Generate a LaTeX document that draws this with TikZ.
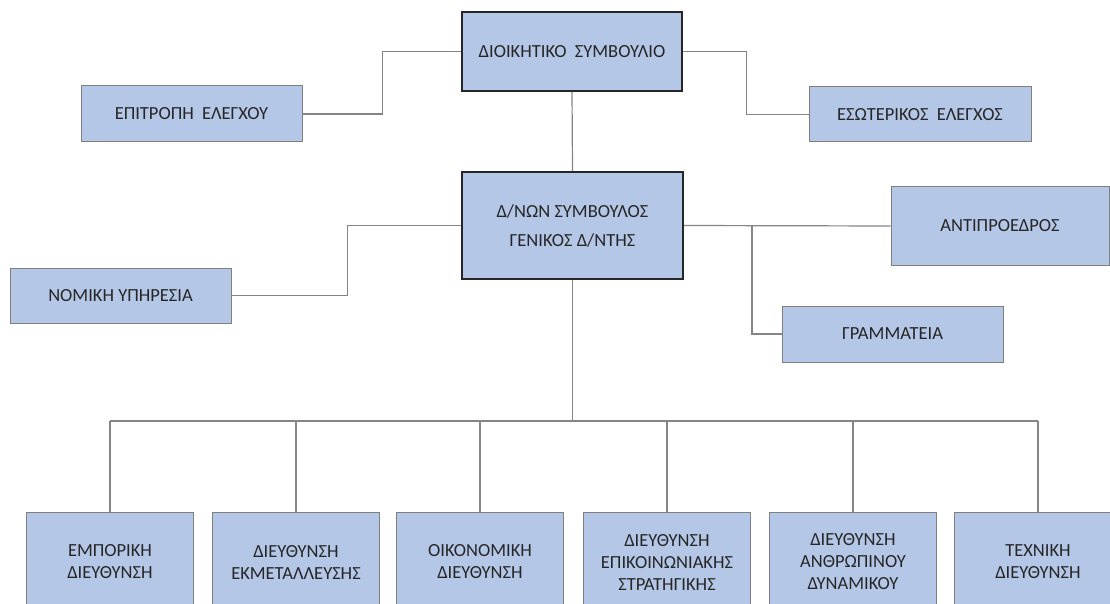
\documentclass[tikz,border=0pt]{standalone}
\usepackage{fontspec}
\setmainfont{Carlito}
\definecolor{boxfill}{HTML}{B4C7E7}
\definecolor{boxline}{HTML}{7F7F7F}
\definecolor{darkline}{HTML}{262626}
\definecolor{wire}{HTML}{858585}
\definecolor{txt}{HTML}{262626}
\begin{document}
\begin{tikzpicture}[x=1pt,y=-1pt,
  unit/.style={draw=boxline, line width=1pt, fill=boxfill, text=txt, align=center,
    inner sep=0pt, font=\fontsize{18.5}{22}\selectfont},
  headunit/.style={unit, draw=darkline, line width=1.6pt},
  wirestyle/.style={draw=wire, line width=1.2pt}]
\useasboundingbox (0,0) rectangle (1110,604);
\clip (0,0) rectangle (1110,604);
\fill[white] (0,0) rectangle (1110,604);

% boxes
\node[headunit, minimum width=220pt, minimum height=79pt] (top) at (572,51.5) {ΔΙΟΙΚΗΤΙΚΟ\ \ ΣΥΜΒΟΥΛΙΟ};
\node[unit, minimum width=221pt, minimum height=56pt] (epi) at (191.5,114) {ΕΠΙΤΡΟΠΗ\ \ ΕΛΕΓΧΟΥ};
\node[unit, minimum width=222pt, minimum height=55pt] (eso) at (920,114.5) {ΕΣΩΤΕΡΙΚΟΣ\ \ ΕΛΕΓΧΟΣ};
\node[headunit, minimum width=221pt, minimum height=107pt] (mid) at (572.5,225.5) {Δ/ΝΩΝ ΣΥΜΒΟΥΛΟΣ\\[7pt]ΓΕΝΙΚΟΣ Δ/ΝΤΗΣ};
\node[unit, minimum width=221pt, minimum height=55pt] (nom) at (120.5,295.5) {ΝΟΜΙΚΗ ΥΠΗΡΕΣΙΑ};
\node[unit, minimum width=218pt, minimum height=78pt] (ant) at (1000,226) {ΑΝΤΙΠΡΟΕΔΡΟΣ};
\node[unit, minimum width=221pt, minimum height=56pt] (gra) at (892.5,334) {ΓΡΑΜΜΑΤΕΙΑ};

\node[unit, minimum width=167pt, minimum height=100pt] (b1) at (110,562) {ΕΜΠΟΡΙΚΗ\\ΔΙΕΥΘΥΝΣΗ};
\node[unit, minimum width=167pt, minimum height=100pt] (b2) at (296,562) {ΔΙΕΥΘΥΝΣΗ\\ΕΚΜΕΤΑΛΛΕΥΣΗΣ};
\node[unit, minimum width=167pt, minimum height=100pt] (b3) at (480,562) {ΟΙΚΟΝΟΜΙΚΗ\\ΔΙΕΥΘΥΝΣΗ};
\node[unit, minimum width=167pt, minimum height=100pt] (b4) at (667,562) {ΔΙΕΥΘΥΝΣΗ\\ΕΠΙΚΟΙΝΩΝΙΑΚΗΣ\\ΣΤΡΑΤΗΓΙΚΗΣ};
\node[unit, minimum width=167pt, minimum height=100pt] (b5) at (853,562) {ΔΙΕΥΘΥΝΣΗ\\ΑΝΘΡΩΠΙΝΟΥ\\ΔΥΝΑΜΙΚΟΥ};
\node[unit, minimum width=167pt, minimum height=100pt] (b6) at (1038,562) {ΤΕΧΝΙΚΗ\\ΔΙΕΥΘΥΝΣΗ};

% connectors
\coordinate (br) at (752,226);
\coordinate (bus) at (572.5,421);
\draw[wirestyle] (epi.east) -- ++(80,0) |- (top.west);
\draw[wirestyle] (top.east) -- ++(64,0) |- (eso.west);
\draw[wirestyle] (top.south) -- (mid.north);
\draw[wirestyle] (mid.east) -- (ant.west);
\draw[wirestyle] (br) |- (gra.west);
\draw[wirestyle] (nom.east) -- ++(116,0) |- (mid.west);
\draw[wirestyle] (mid.south) -- (bus);
\draw[wirestyle] (b1.north |- bus) -- (b6.north |- bus);
\foreach \i in {1,...,6} {
  \draw[wirestyle] (b\i.north |- bus) -- (b\i.north);
}
\end{tikzpicture}
\end{document}
